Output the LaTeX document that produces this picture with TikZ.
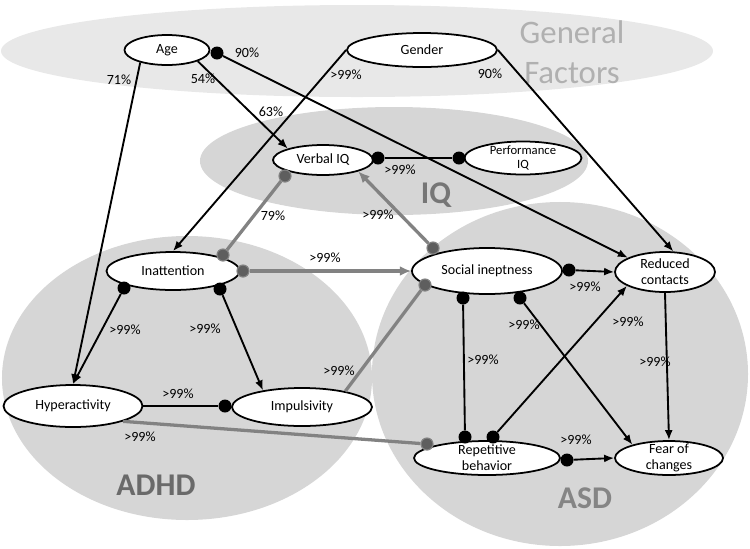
\documentclass[tikz,border=0pt]{standalone}
\usepackage{fontspec}
\setmainfont{Carlito}
\usetikzlibrary{shapes.geometric,arrows.meta}

\definecolor{genfill}{HTML}{E8E8E8}
\definecolor{grpfill}{HTML}{D6D6D6}
\definecolor{gentext}{HTML}{B0B0B0}
\definecolor{iqtext}{HTML}{767676}
\definecolor{adhdtext}{HTML}{6A6A6A}
\definecolor{asdtext}{HTML}{858585}
\definecolor{linkgray}{HTML}{828282}
\definecolor{dotgray}{HTML}{5E5E5E}

\tikzset{
  factor/.style={ellipse, draw, line width=1.5pt, fill=white, inner sep=0pt,
    align=center, font=\fontsize{12}{13.5}\selectfont},
  blk/.style={line width=1.6pt},
  gry/.style={line width=2.8pt, draw=linkgray},
  tip/.style={-{Latex[length=3mm,width=2.4mm]}},
  gtip/.style={-{Latex[length=3.4mm,width=3mm]}},
  dot/.style={circle, fill=black, inner sep=0pt, minimum size=0.39cm},
  gdot/.style={circle, fill=dotgray, draw=linkgray, line width=1pt, inner sep=0pt, minimum size=0.36cm},
  pct/.style={inner sep=0pt, font=\fontsize{12}{13.5}\selectfont},
  grouplabel/.style={inner sep=0pt, font=\fontsize{27}{32}\selectfont\bfseries}
}

\begin{document}
\begin{tikzpicture}[x=0.03cm,y=-0.03cm]
\useasboundingbox (0,0) rectangle (750,548);

\fill[genfill] (357,51) ellipse [x radius=10.68cm, y radius=1.38cm];
\fill[grpfill] (394,161) ellipse [x radius=5.82cm, y radius=1.62cm];
\fill[grpfill] (187,378) ellipse [x radius=5.55cm, y radius=4.26cm];
\fill[grpfill] (560,374) ellipse [x radius=5.64cm, y radius=5.16cm];

\node[inner sep=0pt, align=center, text=gentext, font=\fontsize{28}{34}\selectfont] (tgen) at (572,52) {General\\Factors};
\node[grouplabel, text=iqtext] (tiq) at (436,195) {IQ};
\node[grouplabel, text=adhdtext] (tadhd) at (156,485) {ADHD};
\node[grouplabel, text=asdtext] (tasd) at (585,498) {ASD};

\node[factor, minimum width=2.55cm, minimum height=0.9cm] (age) at (167,50) {Age};
\node[factor, minimum width=4.5cm, minimum height=1.02cm] (gen) at (422,50) {Gender};
\node[factor, minimum width=3cm, minimum height=0.9cm] (viq) at (323,160) {Verbal IQ};
\node[factor, minimum width=3.51cm, minimum height=0.99cm, inner ysep=-3pt,
  font=\fontsize{10.8}{11.8}\selectfont] (piq) at (523,158) {Performance\\IQ};
\node[factor, minimum width=3.99cm, minimum height=1.14cm] (ina) at (173,271) {Inattention};
\node[factor, minimum width=4.5cm, minimum height=1.38cm] (si) at (487,271) {Social ineptness};
\node[factor, minimum width=3cm, minimum height=1.2cm, inner ysep=-4pt] (rc) at (665,272) {Reduced\\contacts};
\node[factor, minimum width=4.17cm, minimum height=1.26cm] (hyp) at (73,406) {Hyperactivity};
\node[factor, minimum width=4.2cm, minimum height=1.14cm] (imp) at (302,407) {Impulsivity};
\node[factor, minimum width=4.38cm, minimum height=1.02cm, inner ysep=-7pt] (rep) at (487,458) {Repetitive\\behavior};
\node[factor, minimum width=3.24cm, minimum height=1.02cm, inner ysep=-7pt] (fc) at (669,458) {Fear of\\changes};

\node[dot] (dA) at (217,53) {};
\node[dot] (dV) at (378,158) {};
\node[dot] (dP) at (459,158) {};
\node[dot] (dI1) at (124,288) {};
\node[dot] (dI2) at (220,289) {};
\node[dot] (dH) at (225,406) {};
\node[dot] (dS1) at (569,270) {};
\node[dot] (dS2) at (463,298) {};
\node[dot] (dS3) at (520,298) {};
\node[dot] (dR1) at (465,437) {};
\node[dot] (dR2) at (493,437) {};
\node[dot] (dR3) at (567,460) {};

\node[gdot] (gI1) at (223,255) {};
\node[gdot] (gV) at (285,176) {};
\node[gdot] (gI2) at (243,271) {};
\node[gdot] (gS1) at (433,248) {};
\node[gdot] (gS2) at (425,285) {};
\node[gdot] (gR) at (427,444) {};

\draw[blk,tip] (age.205) -- (hyp.north);
\draw[blk,tip] (age.-20) -- (viq.162);
\draw[blk,tip] (dA) -- (rc.159);
\draw[blk,tip] (gen.west) -- (ina.north);
\draw[blk,tip] (gen.east) -- (rc.68);
\draw[blk] (dV) -- (dP);
\draw[gry] (gI1) -- (gV);
\draw[gry,gtip] (gS1) -- (viq.-18);
\draw[gry,gtip] (gI2) -- (si.west);
\draw[gry] (imp.20) -- (gS2);
\draw[gry] (hyp.-17) -- (gR);
\draw[blk,tip] (dI1) -- (hyp.north);
\draw[blk,tip] (dI2) -- (imp.157);
\draw[blk] (hyp.east) -- (dH);
\draw[blk,tip] (dS1) -- (rc.west);
\draw[blk] (dS2) -- (dR1);
\draw[blk,tip] (dS3) -- (fc.160);
\draw[blk,tip] (dR2) -- (rc.200);
\draw[blk,tip] (rc.south) -- (fc.north);
\draw[blk,tip] (dR3) -- (fc.west);

\node[pct] (l1) at (119,80) {71\%};
\node[pct] (l2) at (203,79) {54\%};
\node[pct] (l3) at (247,53) {90\%};
\node[pct] (l4) at (346,75) {>99\%};
\node[pct] (l5) at (271,112) {63\%};
\node[pct] (l6) at (490,74) {90\%};
\node[pct] (l7) at (400,170) {>99\%};
\node[pct] (l8) at (273,216) {79\%};
\node[pct] (l9) at (378,215) {>99\%};
\node[pct] (l10) at (325,258) {>99\%};
\node[pct] (l11) at (125,330) {>99\%};
\node[pct] (l12) at (205,329) {>99\%};
\node[pct] (l13) at (178,394) {>99\%};
\node[pct] (l14) at (339,371) {>99\%};
\node[pct] (l15) at (140,437) {>99\%};
\node[pct] (l16) at (585,287) {>99\%};
\node[pct] (l17) at (524,325) {>99\%};
\node[pct] (l18) at (628,322) {>99\%};
\node[pct] (l19) at (483,360) {>99\%};
\node[pct] (l20) at (655,362) {>99\%};
\node[pct] (l21) at (576,440) {>99\%};
\end{tikzpicture}
\end{document}
